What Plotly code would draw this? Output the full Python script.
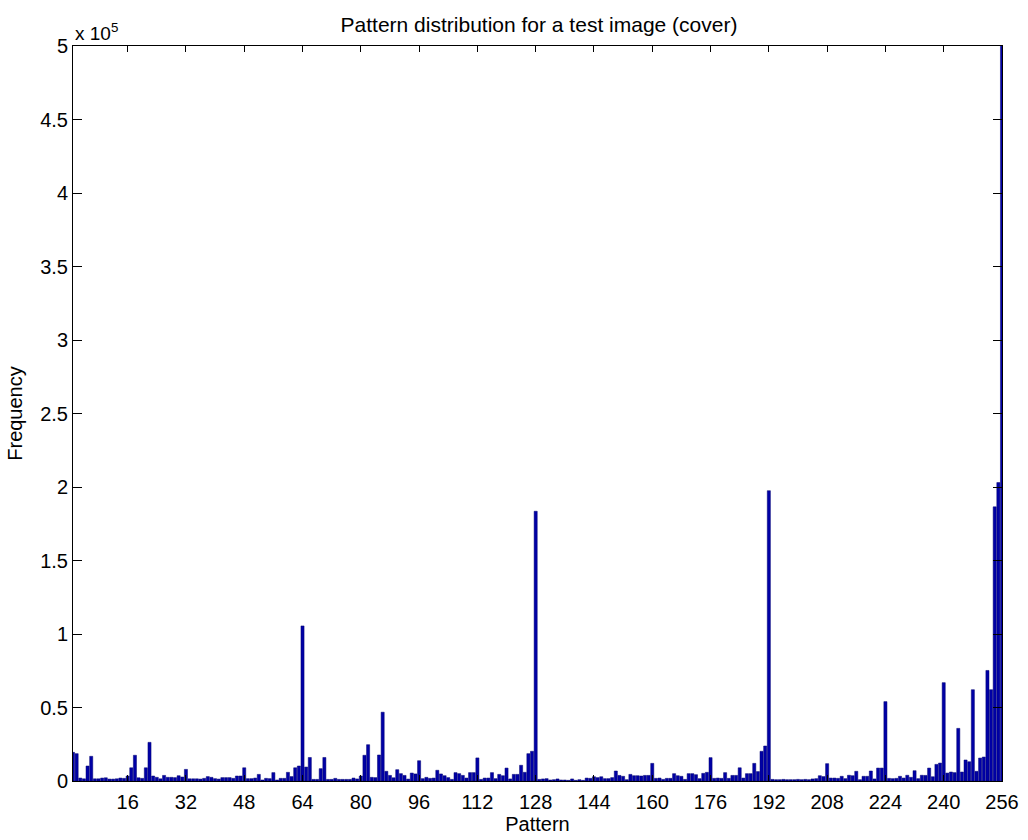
import plotly.graph_objects as go

patterns = list(range(1, 257))
frequency = [
    19500, 18600, 2000, 1500, 10200, 16800, 1500, 1500, 2000, 2200,
    1300, 1300, 1500, 2000, 1800, 3400, 9000, 17500, 2200, 1800,
    9000, 26300, 3400, 2500, 1500, 3800, 2500, 2500, 2300, 3600,
    2700, 7900, 1500, 1500, 1500, 1300, 1800, 3000, 2500, 1600,
    1300, 2300, 2300, 2300, 1800, 3400, 3400, 9000, 1600, 1600,
    2000, 4500, 700, 1800, 1600, 5700, 700, 1800, 1800, 5900,
    3000, 9000, 10200, 105500, 9500, 16000, 1100, 1100, 8400, 16000,
    1100, 1100, 1800, 1100, 1100, 1100, 1100, 2000, 1400, 3400,
    17500, 24700, 2500, 2300, 17700, 46800, 6600, 3800, 2200, 7700,
    5000, 3800, 1300, 5400, 4800, 13800, 1600, 2500, 1800, 2000,
    7300, 4800, 3600, 2300, 1100, 5700, 5000, 3800, 2000, 5700,
    5700, 15700, 1100, 2000, 2000, 5700, 1600, 4500, 3600, 8800,
    1400, 4500, 4500, 10700, 5900, 18600, 20200, 183500, 1100, 1400,
    1600, 700, 900, 1400, 700, 700, 450, 1400, 450, 900,
    450, 2000, 1800, 2900, 2300, 2900, 1600, 1600, 2300, 6800,
    3800, 3200, 900, 4500, 3600, 3600, 3400, 3800, 3800, 12000,
    1800, 2000, 1100, 1800, 1800, 5000, 3600, 3200, 1100, 5000,
    5000, 4300, 1600, 5200, 5900, 15900, 1800, 2000, 1800, 5700,
    1800, 3800, 3800, 9000, 2000, 5000, 5000, 12000, 6400, 20200,
    23800, 197500, 1100, 900, 900, 1100, 900, 900, 900, 1100,
    900, 1100, 900, 1400, 1600, 3600, 3000, 11800, 2000, 2000,
    1800, 3200, 1600, 3900, 3600, 6600, 900, 3200, 3200, 6800,
    1400, 8800, 8800, 54000, 1800, 1600, 1800, 3200, 2000, 3900,
    2500, 7000, 1600, 3900, 3800, 8800, 2900, 11300, 12200, 66900,
    5400, 6100, 5700, 35800, 6100, 14300, 13100, 62100, 6600, 15600,
    16300, 75200, 62100, 186500, 203000, 520000,
]
x_ticks = [16, 32, 48, 64, 80, 96, 112, 128, 144, 160, 176, 192, 208, 224, 240, 256]
y_ticks = [0, 50000, 100000, 150000, 200000, 250000, 300000, 350000, 400000, 450000, 500000]
y_tick_text = ["0", "0.5", "1", "1.5", "2", "2.5", "3", "3.5", "4", "4.5", "5"]

FONT = "Liberation Sans, Arial, Helvetica, sans-serif"

fig = go.Figure(go.Bar(
    x=patterns, y=frequency,
    marker=dict(color="#0000a6", line=dict(color="#000070", width=0.5)),
))

fig.update_layout(
    width=1028, height=840,
    margin=dict(l=73, r=26, t=46, b=59, autoexpand=False),
    paper_bgcolor="white", plot_bgcolor="white",
    bargap=0.15,
    showlegend=False,
    font=dict(family=FONT, size=20, color="black"),
    title=dict(text="Pattern distribution for a test image (cover)",
               x=539 / 1028, xanchor="center", y=1 - 25 / 840, yanchor="middle",
               font=dict(family=FONT, size=21, color="black")),
)
fig.update_xaxes(
    range=[1, 256], tickvals=x_ticks, ticks="inside", ticklen=6,
    tickcolor="black", showline=True, linecolor="black", linewidth=1,
    mirror="ticks", showgrid=False, zeroline=False, automargin=False,
    ticklabelstandoff=3,
    title=dict(text="Pattern", standoff=3, font=dict(size=20)),
    tickfont=dict(size=20),
)
fig.update_yaxes(
    range=[0, 500000], tickvals=y_ticks, ticktext=y_tick_text,
    ticks="inside", ticklen=9, tickcolor="black",
    showline=True, linecolor="black", linewidth=1, mirror="ticks",
    showgrid=False, zeroline=False, automargin=False,
    title=dict(text="Frequency", standoff=12, font=dict(size=20)),
    tickfont=dict(size=20),
)
fig.add_annotation(
    xref="paper", yref="paper", x=0, y=1, xanchor="left", yanchor="bottom",
    text="x 10<sup>5</sup>", showarrow=False, yshift=0,
    font=dict(family=FONT, size=19, color="black"),
)

fig.write_html("out.html")
